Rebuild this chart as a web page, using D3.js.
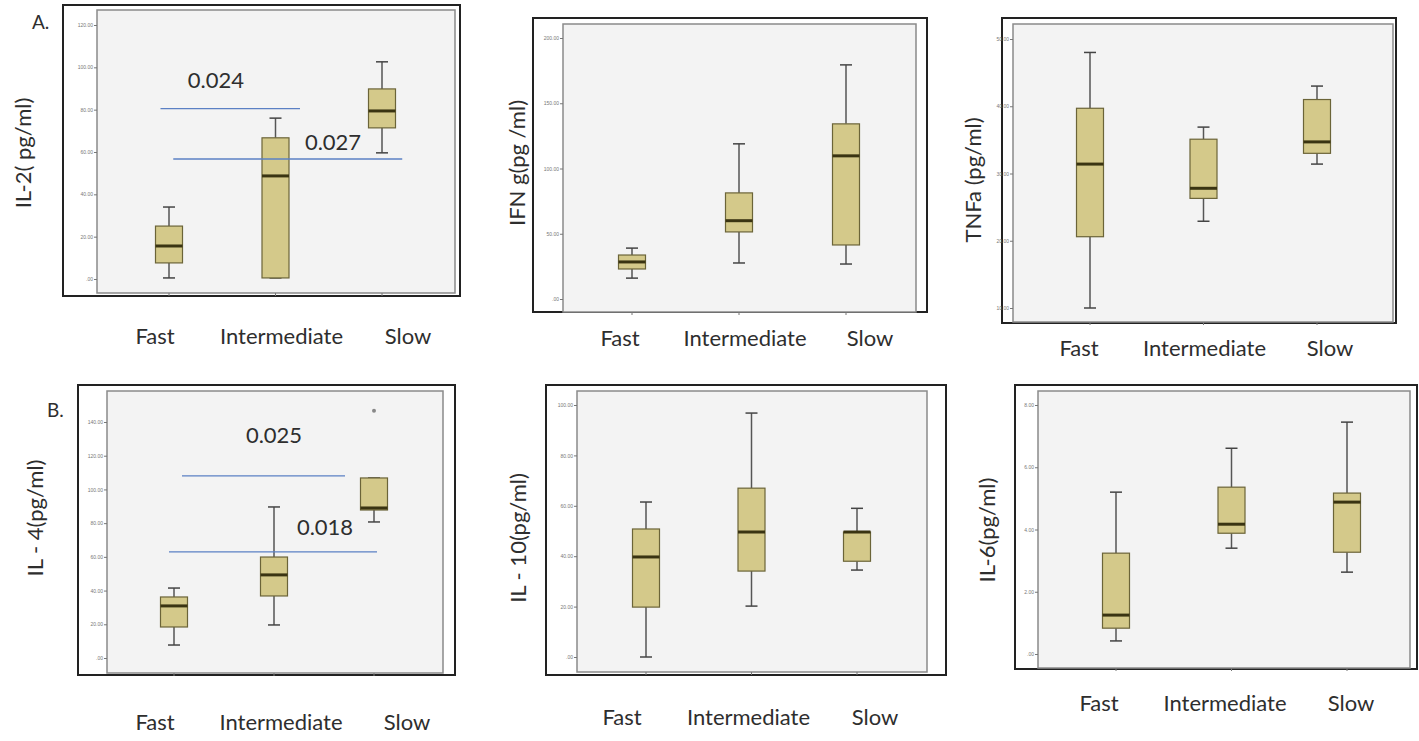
<!DOCTYPE html>
<html>
<head>
<meta charset="utf-8">
<script src="https://cdn.jsdelivr.net/npm/d3@7"></script>
<style>
  html, body { margin: 0; padding: 0; background: #fff; }
  svg { display: block; }
  .lbl { font-family: Lato, "Open Sans", sans-serif; fill: #2e2e2e; }
  .tick-label { font-family: Arial, "Liberation Sans", sans-serif; font-size: 5px; fill: #777; }
</style>
</head>
<body>
<div id="chart"></div>
<script>
// --- Data ---
const categories = ["Fast", "Intermediate", "Slow"];

// each entry: [lower whisker, Q1, median, Q3, upper whisker]
const il2Stats = [[0.5, 7.6, 15.6, 25, 34], [0.5, 0.5, 48.7, 66.7, 76], [59.6, 71.4, 79.4, 89.8, 102.6]];
const ifngStats = [[16, 23, 28.4, 33.7, 39], [27.6, 51.4, 60, 81.3, 118.9], [26.8, 41.4, 109.7, 134.2, 179.4]];
const tnfaStats = [[10, 20.6, 31.4, 39.7, 48], [22.9, 26.3, 27.8, 35.1, 36.9], [31.4, 33, 34.7, 41, 43]];
const il4Stats = [[7.7, 18.4, 30.9, 36.2, 41.5], [19.6, 36.8, 49.3, 59.9, 89.6], [80.7, 87.8, 89, 106.8, 106.8]];
const il10Stats = [[0, 19.8, 39.7, 50.8, 61.5], [20.2, 34.1, 49.6, 67, 96.8], [34.5, 38, 49.6, 49.6, 59]];
const il6Stats = [[0.42, 0.83, 1.25, 3.24, 5.2], [3.4, 3.88, 4.17, 5.36, 6.61], [2.63, 3.27, 4.88, 5.17, 7.45]];

const il4Outliers = [{ cat: "Slow", value: 146.6 }];

const il2Ticks = [0, 20, 40, 60, 80, 100, 120];
const ifngTicks = [0, 50, 100, 150, 200];
const tnfaTicks = [10, 20, 30, 40, 50];
const il4Ticks = [0, 20, 40, 60, 80, 100, 120, 140];
const il10Ticks = [0, 20, 40, 60, 80, 100];
const il6Ticks = [0, 2, 4, 6, 8];

// significance bars: value on y axis, start/end as category index positions
const il2Sig = [
  { p: "0.024", value: 80.5, start: -0.08, end: 1.23, textPos: 0.44, textValue: 90.3 },
  { p: "0.027", value: 56.7, start: 0.04, end: 2.19, textPos: 1.54, textValue: 61 }
];
const il4Sig = [
  { p: "0.025", value: 108, start: 0.08, end: 1.71, textPos: 1.0, textValue: 127.6 },
  { p: "0.018", value: 63, start: -0.05, end: 2.03, textPos: 1.51, textValue: 73 }
];

// --- Layout of the six panels ---
const panels = [
  { stats: il2Stats, ticks: il2Ticks, yLabel: "IL-2( pg/ml)", letter: "A.", letterPos: [32, 29],
    frame: [63, 5, 460, 296], inner: [97, 10, 455, 293], yRange: [279, 25],
    boxX: [169, 382], labelX: [155, 408], labelY: 344, yLabelPos: [23, 153], sig: il2Sig },
  { stats: ifngStats, ticks: ifngTicks, yLabel: "IFN g(pg /ml)",
    frame: [533, 18, 927, 312], inner: [563, 24, 916, 312], yRange: [299, 38],
    boxX: [632, 846], labelX: [620, 870], labelY: 346, yLabelPos: [517, 163] },
  { stats: tnfaStats, ticks: tnfaTicks, yLabel: "TNFa (pg/ml)",
    frame: [1002, 18, 1396, 323], inner: [1013, 24, 1393, 322], yRange: [308, 39],
    boxX: [1090, 1317], labelX: [1079, 1330], labelY: 356, yLabelPos: [973, 180] },
  { stats: il4Stats, ticks: il4Ticks, yLabel: "IL - 4(pg/ml)", letter: "B.", letterPos: [47, 417],
    frame: [78, 385, 455, 675], inner: [107, 391, 443, 673], yRange: [658, 422],
    boxX: [174, 374], labelX: [155, 407], labelY: 730, yLabelPos: [35, 518], sig: il4Sig, outliers: il4Outliers },
  { stats: il10Stats, ticks: il10Ticks, yLabel: "IL - 10(pg/ml)",
    frame: [546, 385, 946, 675], inner: [577, 391, 927, 672], yRange: [657, 405],
    boxX: [646, 857], labelX: [622, 875], labelY: 725, yLabelPos: [518, 538] },
  { stats: il6Stats, ticks: il6Ticks, yLabel: "IL-6(pg/ml)",
    frame: [1015, 385, 1417, 669], inner: [1038, 391, 1410, 668], yRange: [654, 405],
    boxX: [1116, 1347], labelX: [1099, 1351], labelY: 711, yLabelPos: [987, 530] }
];

const width = 1419, height = 741;
const boxWidth = 27, capWidth = 12;

const svg = d3.select("#chart").append("svg")
  .attr("width", width)
  .attr("height", height);

const fmt = (d) => (d === 0 ? ".00" : d.toFixed(2));

panels.forEach((p) => {
  const g = svg.append("g");
  const [fx0, fy0, fx1, fy1] = p.frame;
  const [ix0, iy0, ix1, iy1] = p.inner;

  const y = d3.scaleLinear()
    .domain([p.ticks[0], p.ticks[p.ticks.length - 1]])
    .range(p.yRange);
  const x = d3.scalePoint().domain(categories).range(p.boxX);
  const xIdx = d3.scaleLinear().domain([0, categories.length - 1]).range(p.boxX);
  const xLab = d3.scalePoint().domain(categories).range(p.labelX);

  // outer frame and plot area
  g.append("rect")
    .attr("x", fx0).attr("y", fy0)
    .attr("width", fx1 - fx0).attr("height", fy1 - fy0)
    .attr("fill", "#fff")
    .attr("stroke", "#222")
    .attr("stroke-width", 2);
  g.append("rect")
    .attr("x", ix0).attr("y", iy0)
    .attr("width", ix1 - ix0).attr("height", iy1 - iy0)
    .attr("fill", "#f3f3f3")
    .attr("stroke", "#8a8a8a")
    .attr("stroke-width", 1.5);

  // y axis ticks
  const yAxis = d3.axisLeft(y).tickValues(p.ticks).tickSize(3).tickPadding(1).tickFormat(fmt);
  const ax = g.append("g").attr("transform", `translate(${ix0},0)`).call(yAxis);
  ax.select(".domain").remove();
  ax.selectAll(".tick line").attr("stroke", "#777");
  ax.selectAll(".tick text").attr("class", "tick-label").attr("font-size", null).attr("font-family", null);

  // x category tick marks
  g.append("g").selectAll("line")
    .data(categories)
    .join("line")
    .attr("x1", (d) => x(d)).attr("x2", (d) => x(d))
    .attr("y1", iy1).attr("y2", iy1 + 3)
    .attr("stroke", "#777");

  // boxes
  const box = g.append("g").selectAll("g")
    .data(p.stats.map((s, i) => ({ cat: categories[i], s })))
    .join("g");

  box.append("line")
    .attr("x1", (d) => x(d.cat)).attr("x2", (d) => x(d.cat))
    .attr("y1", (d) => y(d.s[0])).attr("y2", (d) => y(d.s[1]))
    .attr("stroke", "#555").attr("stroke-width", 1.5);
  box.append("line")
    .attr("x1", (d) => x(d.cat)).attr("x2", (d) => x(d.cat))
    .attr("y1", (d) => y(d.s[3])).attr("y2", (d) => y(d.s[4]))
    .attr("stroke", "#555").attr("stroke-width", 1.5);
  box.selectAll(".cap")
    .data((d) => [d.s[0], d.s[4]].map((v) => ({ cat: d.cat, v })))
    .join("line")
    .attr("class", "cap")
    .attr("x1", (d) => x(d.cat) - capWidth / 2).attr("x2", (d) => x(d.cat) + capWidth / 2)
    .attr("y1", (d) => y(d.v)).attr("y2", (d) => y(d.v))
    .attr("stroke", "#444").attr("stroke-width", 1.5);

  box.append("rect")
    .attr("x", (d) => x(d.cat) - boxWidth / 2)
    .attr("width", boxWidth)
    .attr("y", (d) => y(d.s[3]))
    .attr("height", (d) => Math.max(1, y(d.s[1]) - y(d.s[3])))
    .attr("fill", "#d4c98a")
    .attr("stroke", "#6b6438")
    .attr("stroke-width", 1.2);
  box.append("line")
    .attr("x1", (d) => x(d.cat) - boxWidth / 2).attr("x2", (d) => x(d.cat) + boxWidth / 2)
    .attr("y1", (d) => y(d.s[2])).attr("y2", (d) => y(d.s[2]))
    .attr("stroke", "#3a3412").attr("stroke-width", 3);

  if (p.outliers) {
    g.append("g").selectAll("circle")
      .data(p.outliers)
      .join("circle")
      .attr("cx", (d) => x(d.cat))
      .attr("cy", (d) => y(d.value))
      .attr("r", 2)
      .attr("fill", "#888");
  }

  // significance bars
  if (p.sig) {
    g.append("g").selectAll("line")
      .data(p.sig)
      .join("line")
      .attr("x1", (d) => xIdx(d.start)).attr("x2", (d) => xIdx(d.end))
      .attr("y1", (d) => y(d.value)).attr("y2", (d) => y(d.value))
      .attr("stroke", "#5b80c4").attr("stroke-width", 1.3);
    g.append("g").selectAll("text")
      .data(p.sig)
      .join("text")
      .attr("class", "lbl")
      .attr("x", (d) => xIdx(d.textPos))
      .attr("y", (d) => y(d.textValue))
      .attr("text-anchor", "middle")
      .attr("font-size", 22)
      .text((d) => d.p);
  }

  // category labels
  g.append("g").selectAll("text")
    .data(categories)
    .join("text")
    .attr("class", "lbl")
    .attr("x", (d) => xLab(d))
    .attr("y", p.labelY)
    .attr("text-anchor", "middle")
    .attr("font-size", 22)
    .text((d) => d);

  // y axis title
  g.append("text")
    .attr("class", "lbl")
    .attr("transform", `translate(${p.yLabelPos[0]},${p.yLabelPos[1]}) rotate(-90)`)
    .attr("text-anchor", "middle")
    .attr("dy", "0.35em")
    .attr("font-size", 22)
    .text(p.yLabel);

  if (p.letter) {
    g.append("text")
      .attr("class", "lbl")
      .attr("x", p.letterPos[0])
      .attr("y", p.letterPos[1])
      .attr("font-size", 19)
      .text(p.letter);
  }
});
</script>
</body>
</html>
